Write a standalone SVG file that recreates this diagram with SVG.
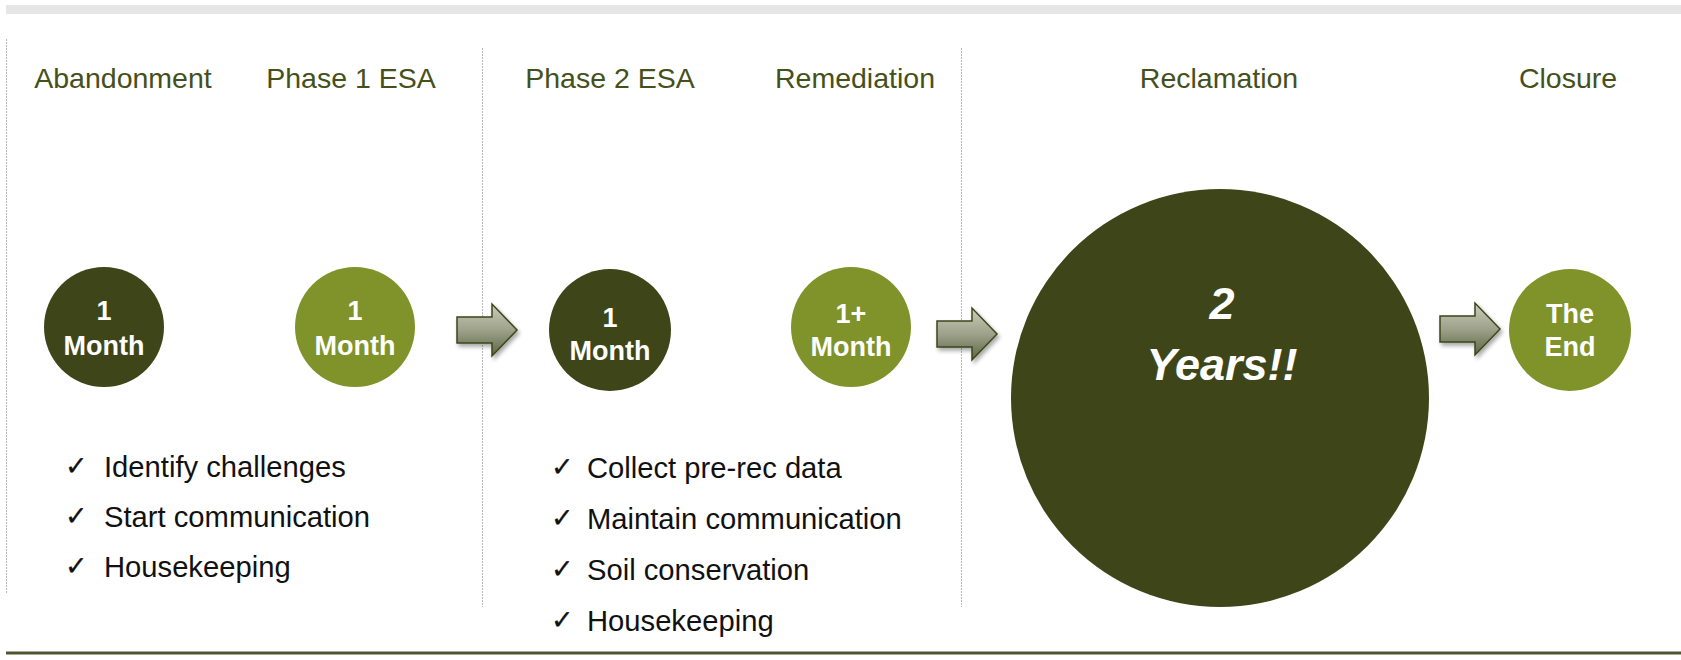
<svg xmlns="http://www.w3.org/2000/svg" width="1681" height="660" viewBox="0 0 1681 660">
<style>
.head{font-family:"Liberation Sans",Arial,sans-serif;font-size:28.5px;fill:#45501a;text-anchor:middle}
.ctext{font-family:"Liberation Sans",Arial,sans-serif;font-size:27px;font-weight:bold;fill:#ffffff;text-anchor:middle}
.big{font-family:"Liberation Sans",Arial,sans-serif;font-size:45px;font-weight:bold;font-style:italic;fill:#ffffff;text-anchor:middle}
.item{font-family:"Liberation Sans",Arial,sans-serif;font-size:29.2px;fill:#111111}
.chk{font-family:"DejaVu Sans",sans-serif;font-size:27px;fill:#111111;stroke:#111111;stroke-width:0.25}
.dark{fill:#3e4619}
.light{fill:#80932a}
.div{stroke:#b8b8b8;stroke-width:1;stroke-dasharray:2 1;fill:none}
.arr{fill:url(#ag);stroke:#3e4619;stroke-width:1.5;filter:url(#sh)}
</style>
<defs>
<linearGradient id="ag" x1="0" y1="0" x2="0" y2="1">
<stop offset="0" stop-color="#c9ccbb"/>
<stop offset="0.5" stop-color="#9ea28a"/>
<stop offset="1" stop-color="#5c6444"/>
</linearGradient>
<filter id="sh" x="-20%" y="-20%" width="150%" height="160%">
<feGaussianBlur in="SourceAlpha" stdDeviation="2"/>
<feOffset dx="2" dy="3" result="b"/>
<feComponentTransfer><feFuncA type="linear" slope="0.35"/></feComponentTransfer>
<feMerge><feMergeNode/><feMergeNode in="SourceGraphic"/></feMerge>
</filter>
<path id="arrow" d="M0,-13 L35,-13 L35,-26 L60,0 L35,26 L35,13 L0,13 Z"/>
</defs>
<rect x="6" y="5" width="1675" height="9" fill="#e6e6e6"/>
<g id="dividers">
<line class="div" x1="6.5" y1="39" x2="6.5" y2="593"/>
<line class="div" x1="482.5" y1="48" x2="482.5" y2="607"/>
<line class="div" x1="961.5" y1="48" x2="961.5" y2="607"/>
</g>
<line x1="6" y1="653" x2="1681" y2="653" stroke="#4e5630" stroke-width="3"/>
<g id="headings">
<text class="head" x="123" y="88">Abandonment</text>
<text class="head" x="351" y="88">Phase 1 ESA</text>
<text class="head" x="610" y="88">Phase 2 ESA</text>
<text class="head" x="855" y="88">Remediation</text>
<text class="head" x="1219" y="88">Reclamation</text>
<text class="head" x="1568" y="88">Closure</text>
</g>
<g id="connectors">
<use href="#arrow" class="arr" transform="translate(457,330)"/>
<use href="#arrow" class="arr" transform="translate(937,334)"/>
<use href="#arrow" class="arr" transform="translate(1440,329)"/>
</g>
<g id="node-abandonment">
<circle class="dark" cx="104" cy="327" r="60"/>
<text class="ctext" x="104" y="320">1</text>
<text class="ctext" x="104" y="355">Month</text>
</g>
<g id="node-phase1">
<circle class="light" cx="355" cy="327" r="60"/>
<text class="ctext" x="355" y="320">1</text>
<text class="ctext" x="355" y="355">Month</text>
</g>
<g id="node-phase2">
<circle class="dark" cx="610" cy="330" r="61"/>
<text class="ctext" x="610" y="327">1</text>
<text class="ctext" x="610" y="360">Month</text>
</g>
<g id="node-remediation">
<circle class="light" cx="851" cy="327" r="60"/>
<text class="ctext" x="851" y="323">1+</text>
<text class="ctext" x="851" y="356">Month</text>
</g>
<g id="node-reclamation">
<circle class="dark" cx="1220" cy="398" r="209"/>
<text class="big" x="1222" y="319">2</text>
<text class="big" x="1222" y="380">Years!!</text>
</g>
<g id="node-closure">
<circle class="light" cx="1570" cy="330" r="61"/>
<text class="ctext" x="1570" y="323">The</text>
<text class="ctext" x="1570" y="356">End</text>
</g>
<g id="list-left">
<text class="chk" x="65" y="475">✓</text>
<text class="item" x="104" y="477">Identify challenges</text>
<text class="chk" x="65" y="525">✓</text>
<text class="item" x="104" y="527">Start communication</text>
<text class="chk" x="65" y="575">✓</text>
<text class="item" x="104" y="577">Housekeeping</text>
</g>
<g id="list-right">
<text class="chk" x="551" y="476">✓</text>
<text class="item" x="587" y="478">Collect pre-rec data</text>
<text class="chk" x="551" y="527">✓</text>
<text class="item" x="587" y="529">Maintain communication</text>
<text class="chk" x="551" y="578">✓</text>
<text class="item" x="587" y="580">Soil conservation</text>
<text class="chk" x="551" y="629">✓</text>
<text class="item" x="587" y="631">Housekeeping</text>
</g>
</svg>
